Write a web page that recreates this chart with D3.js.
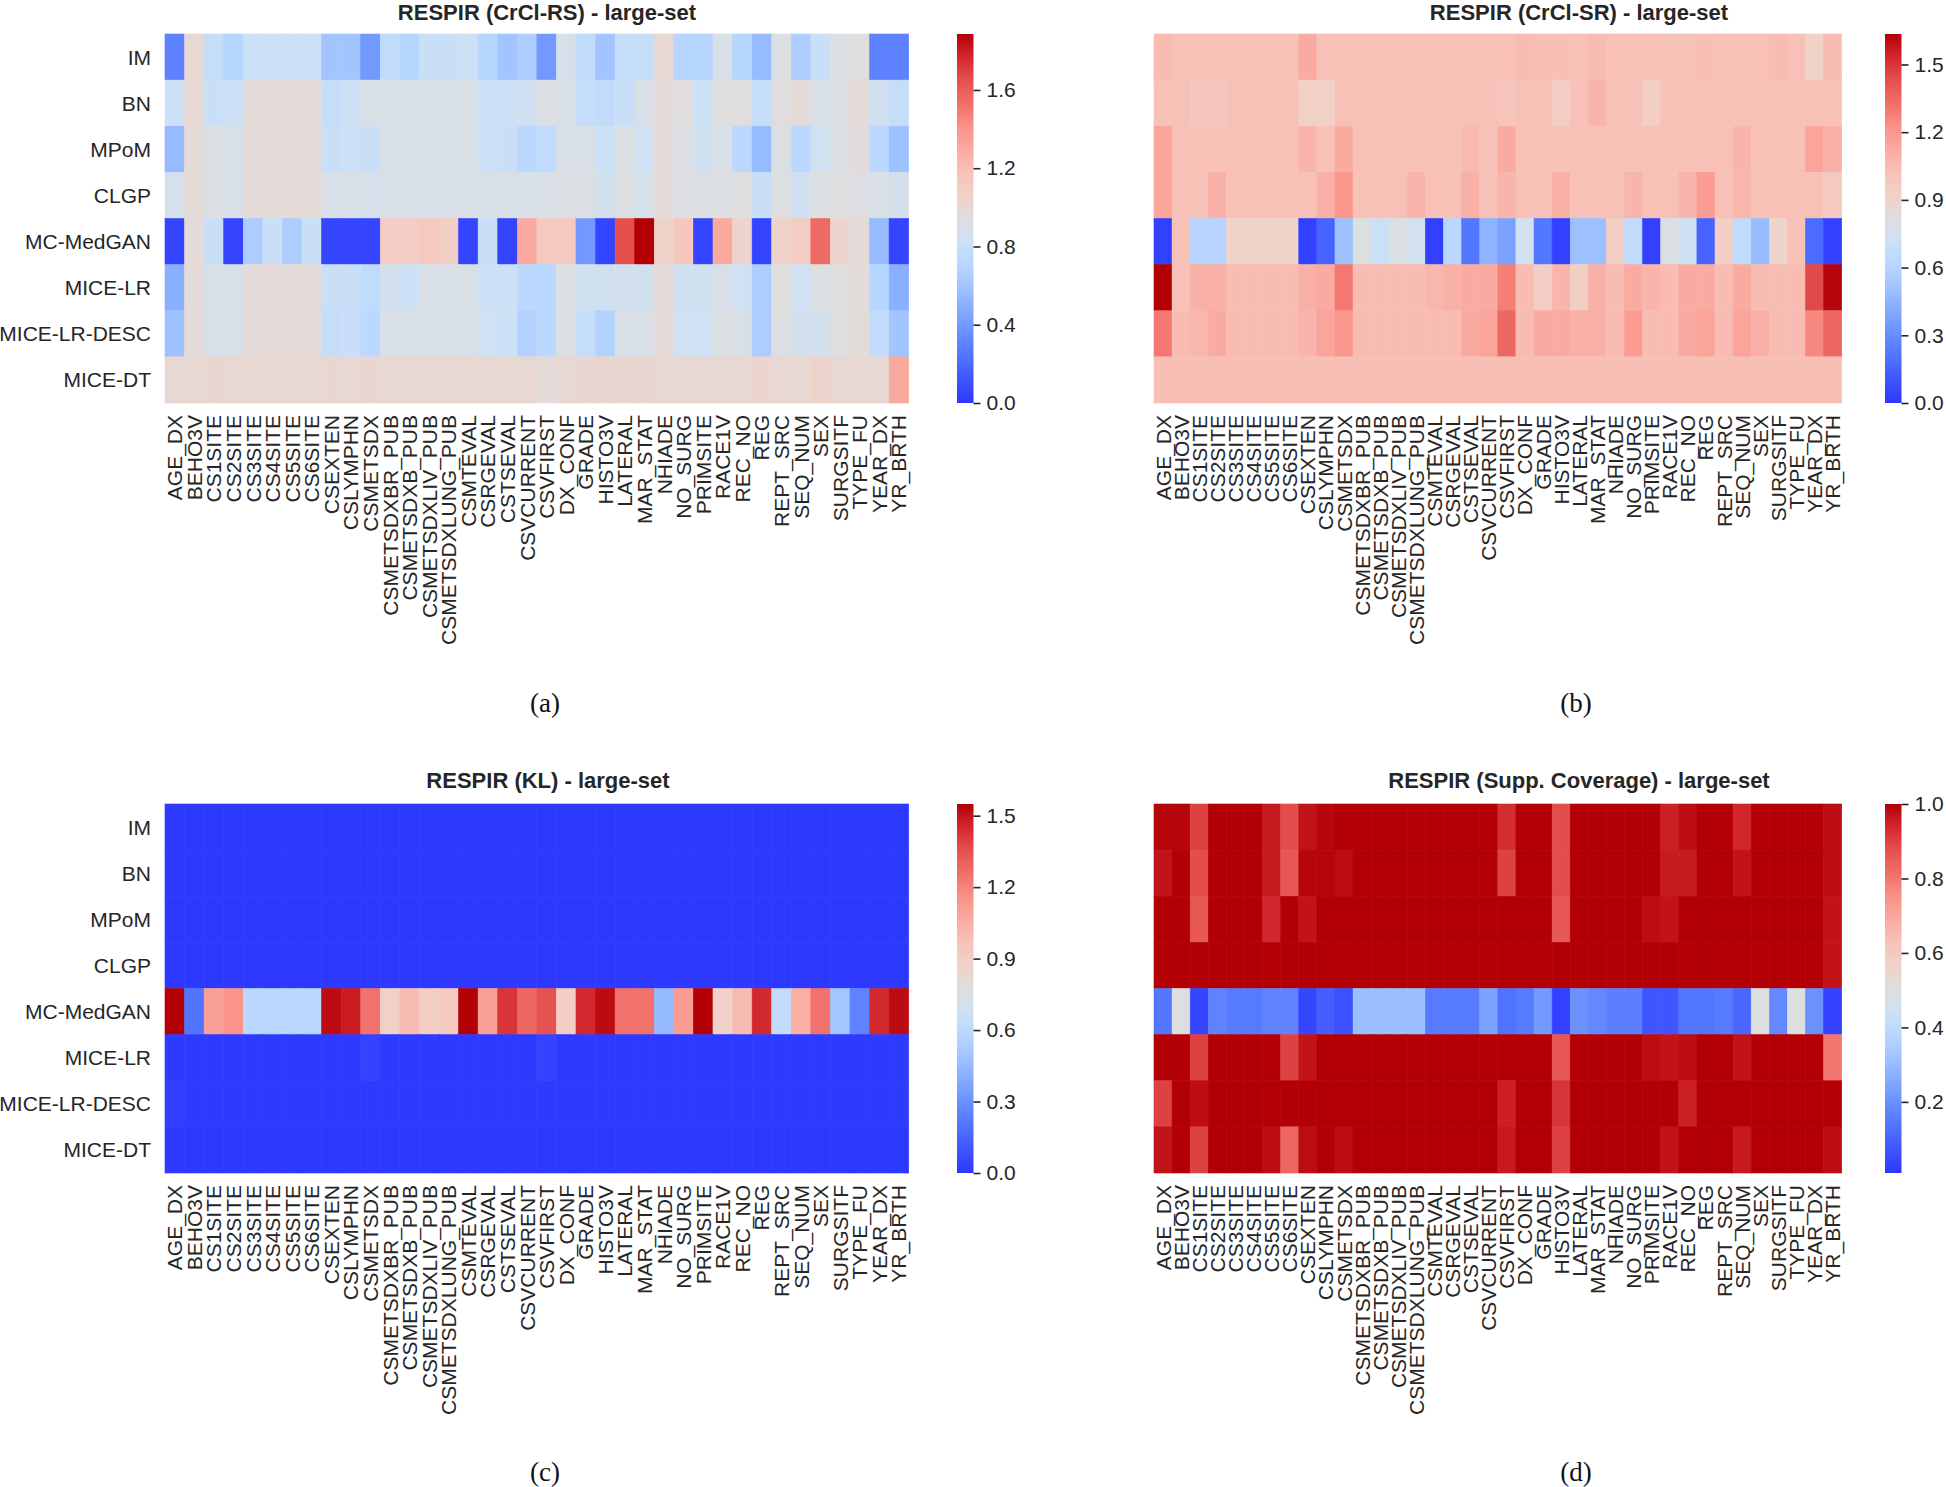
<!DOCTYPE html>
<html>
<head>
<meta charset="utf-8">
<script src="https://cdn.jsdelivr.net/npm/d3@7"></script>
<style>
  html, body { margin: 0; padding: 0; background: #ffffff; }
  svg { display: block; }
</style>
</head>
<body>
<script>
// ---------------- DATA ----------------
const columns = ["AGE_DX","BEHO3V","CS1SITE","CS2SITE","CS3SITE","CS4SITE","CS5SITE","CS6SITE","CSEXTEN","CSLYMPHN","CSMETSDX","CSMETSDXBR_PUB","CSMETSDXB_PUB","CSMETSDXLIV_PUB","CSMETSDXLUNG_PUB","CSMTEVAL","CSRGEVAL","CSTSEVAL","CSVCURRENT","CSVFIRST","DX_CONF","GRADE","HISTO3V","LATERAL","MAR_STAT","NHIADE","NO_SURG","PRIMSITE","RACE1V","REC_NO","REG","REPT_SRC","SEQ_NUM","SEX","SURGSITF","TYPE_FU","YEAR_DX","YR_BRTH"];
const methods = ["IM","BN","MPoM","CLGP","MC-MedGAN","MICE-LR","MICE-LR-DESC","MICE-DT"];

// (a) RESPIR (CrCl-RS)
const crclRS = [
  [0.30,1.00,0.78,0.70,0.82,0.82,0.82,0.82,0.60,0.60,0.40,0.75,0.70,0.80,0.80,0.82,0.70,0.60,0.65,0.40,0.88,0.75,0.60,0.78,0.78,1.00,0.70,0.70,0.90,0.70,0.55,0.92,0.65,0.80,0.92,0.95,0.30,0.30],
  [0.82,1.00,0.80,0.82,0.98,0.98,0.98,0.98,0.78,0.82,0.90,0.90,0.90,0.90,0.90,0.90,0.82,0.82,0.85,0.92,0.90,0.78,0.76,0.80,0.90,0.98,0.95,0.82,0.95,0.95,0.78,0.95,0.98,0.90,0.92,0.98,0.85,0.78],
  [0.55,0.98,0.92,0.90,0.98,0.98,0.98,0.98,0.80,0.82,0.80,0.90,0.90,0.90,0.90,0.90,0.82,0.80,0.72,0.75,0.90,0.90,0.82,0.92,0.84,0.98,0.92,0.85,0.90,0.72,0.55,0.92,0.72,0.84,0.92,0.96,0.72,0.58],
  [0.88,0.98,0.92,0.90,0.98,0.98,0.98,0.98,0.90,0.90,0.88,0.90,0.90,0.90,0.90,0.90,0.90,0.90,0.90,0.90,0.92,0.92,0.86,0.92,0.88,0.98,0.92,0.92,0.92,0.95,0.80,0.93,0.85,0.92,0.95,0.93,0.90,0.87],
  [0.05,0.98,0.80,0.05,0.65,0.80,0.65,0.80,0.05,0.05,0.05,1.10,1.10,1.12,1.10,0.05,0.80,0.05,1.30,1.12,1.12,0.40,0.05,1.65,1.886,1.05,1.15,0.05,1.30,1.03,0.05,1.05,1.10,1.55,1.03,0.98,0.55,0.05],
  [0.50,0.98,0.90,0.90,0.98,0.98,0.98,0.98,0.80,0.80,0.75,0.86,0.82,0.90,0.90,0.90,0.82,0.82,0.72,0.72,0.92,0.85,0.85,0.86,0.86,0.98,0.85,0.85,0.90,0.84,0.65,0.95,0.84,0.92,0.95,0.97,0.70,0.50],
  [0.58,0.98,0.90,0.90,0.98,0.98,0.98,0.98,0.78,0.80,0.72,0.90,0.90,0.90,0.90,0.90,0.84,0.82,0.68,0.72,0.92,0.78,0.68,0.90,0.90,0.98,0.84,0.84,0.92,0.90,0.65,0.93,0.86,0.86,0.95,0.97,0.76,0.60],
  [1.00,1.00,1.02,1.00,1.00,1.00,1.00,1.00,1.01,1.00,1.02,1.00,1.00,1.00,1.00,1.00,1.00,1.00,1.00,0.98,1.00,1.02,1.02,1.02,1.02,1.00,1.00,1.00,1.00,1.00,1.03,1.00,1.00,1.05,1.00,1.00,1.00,1.30]
];

// (b) RESPIR (CrCl-SR)
const crclSR = [
  [1.05,1.03,1.03,1.03,1.03,1.03,1.03,1.03,1.12,1.03,1.03,1.03,1.03,1.03,1.03,1.03,1.03,1.03,1.03,1.03,1.05,1.04,1.04,1.03,1.05,1.03,1.03,1.03,1.02,1.02,1.04,1.03,1.03,1.03,1.05,1.03,0.92,1.05],
  [1.03,1.03,1.00,1.00,1.03,1.03,1.03,1.03,0.93,0.93,1.03,1.03,1.03,1.03,1.03,1.03,1.03,1.03,1.03,1.00,1.03,1.03,0.95,1.03,1.08,1.03,1.03,0.95,1.03,1.03,1.03,1.03,1.03,1.03,1.03,1.03,1.03,1.03],
  [1.15,1.03,1.03,1.03,1.03,1.03,1.03,1.03,1.08,1.03,1.12,1.03,1.03,1.03,1.03,1.03,1.03,1.06,1.03,1.12,1.03,1.03,1.03,1.03,1.03,1.03,1.03,1.03,1.03,1.03,1.03,1.03,1.08,1.03,1.03,1.03,1.15,1.10],
  [1.15,1.03,1.03,1.10,1.03,1.03,1.03,1.03,1.03,1.10,1.20,1.03,1.03,1.03,1.08,1.03,1.03,1.10,1.03,1.08,1.03,1.03,1.10,1.03,1.03,1.03,1.08,1.03,1.03,1.08,1.18,1.03,1.07,1.03,1.03,1.03,1.03,0.98],
  [0.03,1.03,0.60,0.60,0.92,0.92,0.92,0.92,0.03,0.15,0.50,0.80,0.70,0.80,0.75,0.03,0.62,0.22,0.45,0.38,0.75,0.22,0.03,0.50,0.50,0.95,0.65,0.03,0.80,0.72,0.15,0.95,0.65,0.48,0.90,1.03,0.18,0.03],
  [1.635,1.03,1.10,1.10,1.05,1.05,1.05,1.05,1.10,1.12,1.30,1.05,1.05,1.05,1.05,1.07,1.10,1.12,1.12,1.28,1.05,0.95,1.08,0.95,1.10,1.05,1.12,1.08,1.05,1.12,1.12,1.05,1.12,1.05,1.05,1.05,1.45,1.62],
  [1.30,1.05,1.07,1.12,1.05,1.05,1.05,1.05,1.08,1.15,1.20,1.05,1.05,1.05,1.05,1.05,1.05,1.12,1.15,1.35,1.05,1.12,1.12,1.10,1.10,1.05,1.18,1.05,1.05,1.12,1.15,1.05,1.15,1.10,1.05,1.05,1.25,1.35],
  [1.04,1.04,1.04,1.04,1.04,1.04,1.04,1.04,1.04,1.04,1.04,1.04,1.04,1.04,1.04,1.04,1.04,1.04,1.04,1.04,1.04,1.04,1.04,1.04,1.04,1.04,1.04,1.04,1.04,1.04,1.04,1.04,1.04,1.04,1.04,1.04,1.04,1.04]
];

// (c) RESPIR (KL)
const klDiv = [
  [0.005,0.005,0.005,0.005,0.005,0.005,0.005,0.005,0.005,0.005,0.005,0.005,0.005,0.005,0.005,0.005,0.005,0.005,0.005,0.005,0.005,0.005,0.005,0.005,0.005,0.005,0.005,0.005,0.005,0.005,0.005,0.005,0.005,0.005,0.005,0.005,0.005,0.005],
  [0.005,0.005,0.005,0.005,0.005,0.005,0.005,0.005,0.005,0.005,0.005,0.005,0.005,0.005,0.005,0.005,0.005,0.005,0.005,0.005,0.005,0.005,0.005,0.005,0.005,0.005,0.005,0.005,0.005,0.005,0.005,0.005,0.005,0.005,0.005,0.005,0.005,0.005],
  [0.005,0.005,0.005,0.005,0.005,0.005,0.005,0.005,0.005,0.005,0.005,0.005,0.005,0.005,0.005,0.005,0.005,0.005,0.005,0.005,0.005,0.005,0.005,0.005,0.005,0.005,0.005,0.005,0.005,0.005,0.005,0.005,0.005,0.005,0.005,0.005,0.005,0.005],
  [0.005,0.005,0.005,0.005,0.005,0.005,0.005,0.005,0.005,0.005,0.005,0.005,0.005,0.005,0.005,0.005,0.005,0.005,0.005,0.005,0.005,0.005,0.005,0.005,0.005,0.005,0.005,0.005,0.005,0.005,0.005,0.005,0.005,0.005,0.005,0.005,0.005,0.005],
  [1.55,0.20,1.10,1.15,0.58,0.58,0.58,0.58,1.52,1.48,1.25,0.88,1.00,0.90,0.93,1.55,1.10,1.42,1.28,1.35,0.90,1.45,1.52,1.25,1.25,0.45,1.12,1.55,0.88,1.00,1.45,0.62,1.05,1.25,0.50,0.25,1.45,1.52],
  [0.01,0.01,0.01,0.01,0.01,0.01,0.01,0.01,0.01,0.01,0.04,0.01,0.01,0.01,0.01,0.01,0.01,0.01,0.01,0.04,0.01,0.01,0.01,0.01,0.01,0.01,0.01,0.01,0.01,0.01,0.01,0.01,0.01,0.01,0.01,0.01,0.01,0.01],
  [0.02,0.01,0.01,0.01,0.01,0.01,0.01,0.01,0.01,0.01,0.01,0.01,0.01,0.01,0.01,0.01,0.01,0.01,0.01,0.01,0.01,0.01,0.01,0.01,0.01,0.01,0.01,0.01,0.01,0.01,0.01,0.01,0.01,0.01,0.01,0.01,0.01,0.01],
  [0.005,0.005,0.005,0.005,0.005,0.005,0.005,0.005,0.005,0.005,0.005,0.005,0.005,0.005,0.005,0.005,0.005,0.005,0.005,0.005,0.005,0.005,0.005,0.005,0.005,0.005,0.005,0.005,0.005,0.005,0.005,0.005,0.005,0.005,0.005,0.005,0.005,0.005]
];

// (d) RESPIR (Supp. Coverage)
const suppCoverage = [
  [0.99,0.99,0.90,1.00,1.00,1.00,0.96,0.88,0.97,0.99,1.00,1.00,1.00,1.00,1.00,1.00,1.00,1.00,1.00,0.93,1.00,1.00,0.88,1.00,1.00,1.00,1.00,1.00,0.95,0.98,1.00,1.00,0.94,1.00,1.00,1.00,1.00,0.98],
  [0.97,1.00,0.88,1.00,1.00,1.00,0.96,0.86,0.99,0.99,0.98,1.00,1.00,1.00,1.00,1.00,1.00,1.00,1.00,0.90,1.00,1.00,0.88,1.00,1.00,1.00,1.00,1.00,0.96,0.96,1.00,1.00,0.97,1.00,1.00,1.00,1.00,0.98],
  [1.00,1.00,0.86,1.00,1.00,1.00,0.94,1.00,0.97,1.00,1.00,1.00,1.00,1.00,1.00,1.00,1.00,1.00,1.00,1.00,1.00,1.00,0.86,1.00,1.00,1.00,1.00,0.98,0.97,1.00,1.00,1.00,1.00,1.00,1.00,1.00,1.00,0.97],
  [1.00,1.00,1.00,1.00,1.00,1.00,1.00,1.00,1.00,1.00,1.00,1.00,1.00,1.00,1.00,1.00,1.00,1.00,1.00,1.00,1.00,1.00,1.00,1.00,1.00,1.00,1.00,1.00,1.00,1.00,1.00,1.00,1.00,1.00,1.00,1.00,1.00,0.97],
  [0.14,0.50,0.04,0.17,0.15,0.15,0.17,0.17,0.04,0.09,0.06,0.31,0.31,0.31,0.31,0.15,0.15,0.15,0.24,0.13,0.15,0.22,0.03,0.20,0.18,0.16,0.16,0.07,0.07,0.14,0.14,0.15,0.11,0.50,0.18,0.50,0.20,0.03],
  [1.00,1.00,0.90,1.00,1.00,1.00,1.00,0.90,0.97,1.00,1.00,1.00,1.00,1.00,1.00,1.00,1.00,1.00,1.00,1.00,1.00,1.00,0.86,1.00,1.00,1.00,1.00,0.98,0.97,0.98,1.00,1.00,0.97,1.00,1.00,1.00,1.00,0.80],
  [0.90,1.00,0.98,1.00,1.00,1.00,1.00,1.00,1.00,1.00,1.00,1.00,1.00,1.00,1.00,1.00,1.00,1.00,1.00,0.95,1.00,1.00,0.92,1.00,1.00,1.00,1.00,1.00,1.00,0.95,1.00,1.00,1.00,1.00,1.00,1.00,1.00,1.00],
  [0.97,1.00,0.90,1.00,1.00,1.00,0.98,0.83,0.98,1.00,0.98,1.00,1.00,1.00,1.00,1.00,1.00,1.00,1.00,0.96,1.00,1.00,0.90,1.00,1.00,1.00,1.00,1.00,0.97,1.00,1.00,1.00,0.96,1.00,1.00,1.00,1.00,0.98]
];

const titles = ["RESPIR (CrCl-RS) - large-set","RESPIR (CrCl-SR) - large-set","RESPIR (KL) - large-set","RESPIR (Supp. Coverage) - large-set"];
const captions = ["(a)","(b)","(c)","(d)"];
const colorDomains = [[0, 1.886],[0, 1.635],[0, 1.549],[0.009, 1.0]];
const colorTicks = [[0.0,0.4,0.8,1.2,1.6],[0.0,0.3,0.6,0.9,1.2,1.5],[0.0,0.3,0.6,0.9,1.2,1.5],[0.2,0.4,0.6,0.8,1.0]];

// colormap control colours (coolwarm-like, as rendered) and their positions
const cmapStops = ["#2d37ff","#5073ff","#82aaff","#a0c3ff","#b9d7ff","#cde1f5","#dedede","#f0d2c8","#f7c3b9","#faaaa0","#fa9187","#f06e69","#e4504e","#d2282d","#b20005"];
const cmapPos = [0, 0.125, 0.25, 0.3125, 0.375, 0.4375, 0.5, 0.5625, 0.625, 0.6875, 0.75, 0.8125, 0.875, 0.9375, 1.0];

// ---------------- LAYOUT ----------------
const W = 1946, H = 1487;
const textColor = "#262626";
const panels = [
  {data: crclRS, x0: 165, x1: 908.7, y0: 34, y1: 403, cb: 957, titleX: 547, titleY: 20, capX: 545, capY: 712, ylab: true},
  {data: crclSR, x0: 1154, x1: 1841.7, y0: 34, y1: 403, cb: 1885, titleX: 1579, titleY: 20, capX: 1576, capY: 712, ylab: false},
  {data: klDiv, x0: 165, x1: 908.7, y0: 804, y1: 1173, cb: 957, titleX: 548, titleY: 788, capX: 545, capY: 1481, ylab: true},
  {data: suppCoverage, x0: 1154, x1: 1841.7, y0: 804, y1: 1173, cb: 1885, titleX: 1579, titleY: 788, capX: 1576, capY: 1481, ylab: false}
];

const cmap = d3.scaleLinear().domain(cmapPos).range(cmapStops).interpolate(d3.interpolateRgb).clamp(true);

const svg = d3.select("body").append("svg")
  .attr("width", W).attr("height", H)
  .attr("font-family", "'Liberation Sans', Arial, Helvetica, sans-serif");
svg.append("rect").attr("width", W).attr("height", H).attr("fill", "#fff");
const defs = svg.append("defs");

panels.forEach((p, pi) => {
  const g = svg.append("g");
  const x = d3.scaleBand().domain(columns).range([p.x0, p.x1]);
  const y = d3.scaleBand().domain(methods).range([p.y0, p.y1]);
  const norm = d3.scaleLinear().domain(colorDomains[pi]).range([0, 1]).clamp(true);
  const color = v => cmap(norm(v));

  const cells = [];
  p.data.forEach((row, ri) => row.forEach((v, ci) => cells.push({m: methods[ri], c: columns[ci], v})));

  g.selectAll("rect.cell").data(cells).join("rect")
    .attr("class", "cell")
    .attr("x", d => x(d.c)).attr("y", d => y(d.m))
    .attr("width", x.bandwidth()).attr("height", y.bandwidth())
    .attr("fill", d => color(d.v))
    .attr("stroke", d => color(d.v)).attr("stroke-width", 0.6);

  // x labels
  g.selectAll("text.xl").data(columns).join("text")
    .attr("class", "xl")
    .attr("transform", d => `translate(${x(d) + x.bandwidth() / 2},${p.y1 + 12}) rotate(-90)`)
    .attr("text-anchor", "end")
    .attr("dominant-baseline", "central")
    .attr("font-size", 21)
    .attr("fill", textColor)
    .text(d => d);

  // y labels
  if (p.ylab) {
    g.selectAll("text.yl").data(methods).join("text")
      .attr("class", "yl")
      .attr("x", p.x0 - 14)
      .attr("y", d => y(d) + y.bandwidth() / 2)
      .attr("text-anchor", "end")
      .attr("dominant-baseline", "central")
      .attr("font-size", 21)
      .attr("fill", textColor)
      .text(d => d);
  }

  // title
  g.append("text")
    .attr("x", p.titleX).attr("y", p.titleY)
    .attr("text-anchor", "middle")
    .attr("font-size", 22).attr("font-weight", "bold")
    .attr("fill", textColor)
    .text(titles[pi]);

  // caption
  g.append("text")
    .attr("x", p.capX).attr("y", p.capY)
    .attr("text-anchor", "middle")
    .attr("font-family", "'Liberation Serif', 'DejaVu Serif', serif")
    .attr("font-size", 27)
    .attr("fill", "#111")
    .text(captions[pi]);

  // colorbar
  const gid = "cbgrad" + pi;
  const grad = defs.append("linearGradient").attr("id", gid)
    .attr("x1", 0).attr("y1", 1).attr("x2", 0).attr("y2", 0);
  d3.range(0, 1.0001, 0.02).forEach(t => {
    grad.append("stop").attr("offset", t).attr("stop-color", cmap(t));
  });
  const cbW = 16.5;
  g.append("rect")
    .attr("x", p.cb).attr("y", p.y0)
    .attr("width", cbW).attr("height", p.y1 - p.y0)
    .attr("fill", `url(#${gid})`);
  const cbScale = d3.scaleLinear().domain(colorDomains[pi]).range([p.y1, p.y0]);
  const axis = d3.axisRight(cbScale).tickValues(colorTicks[pi]).tickSize(7).tickPadding(6)
    .tickFormat(d3.format(".1f"));
  const ag = g.append("g").attr("transform", `translate(${p.cb + cbW},0)`).call(axis);
  ag.select(".domain").remove();
  ag.selectAll(".tick line").attr("stroke", textColor).attr("stroke-width", 1.6);
  ag.selectAll(".tick text").attr("font-size", 21).attr("fill", textColor)
    .attr("font-family", "'Liberation Sans', Arial, Helvetica, sans-serif");
});
</script>
</body>
</html>
